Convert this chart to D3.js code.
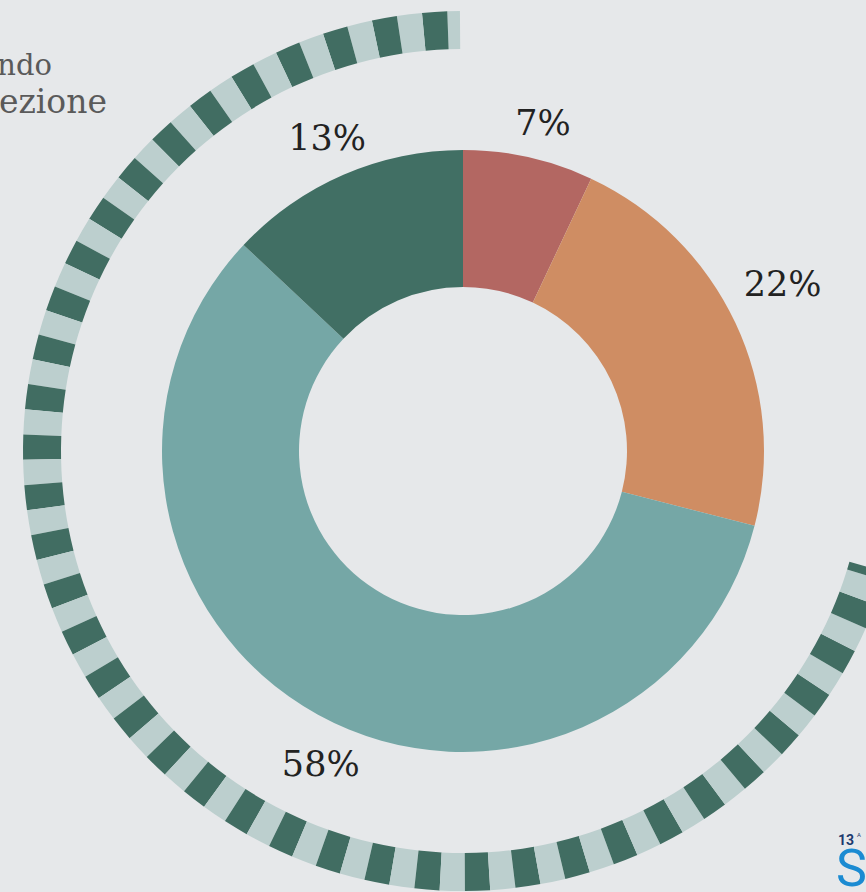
<!DOCTYPE html>
<html lang="it">
<head>
<meta charset="UTF-8">
<title>Donut</title>
<script src="https://d3js.org/d3.v7.min.js"></script>
<style>
  html, body { margin: 0; padding: 0; background: #e6e8ea; overflow: hidden; }
  svg { display: block; }
</style>
</head>
<body>
<div id="chart"></div>
<script>
// Data
var labels = ["A", "B", "C", "D"];
var values = [7, 22, 58, 13];
var colors = ["#b36762", "#cf8d63", "#75a7a6", "#416f64"];
var pctLabels = ["7%", "22%", "58%", "13%"];

var width = 866, height = 892;
var cx = 463, cy = 451;

var svg = d3.select("#chart").append("svg")
    .attr("width", width)
    .attr("height", height);

svg.append("rect").attr("width", width).attr("height", height).attr("fill", "#e6e8ea");

// Cut-off heading text at top left
svg.append("text")
    .attr("x", 52).attr("y", 75)
    .attr("text-anchor", "end")
    .style("font-family", "DejaVu Serif")
    .style("font-size", "29px")
    .attr("fill", "#5a5a5a")
    .text("ndo");
svg.append("text")
    .attr("x", 107).attr("y", 113)
    .attr("text-anchor", "end")
    .style("font-family", "DejaVu Serif")
    .style("font-size", "33px")
    .attr("fill", "#5a5a5a")
    .text("ezione");

var g = svg.append("g").attr("transform", "translate(" + cx + "," + cy + ")");

// Decorative striped ring
var rad = Math.PI / 180;
var segAngle = 3.3 * rad;
var ringEnd = 2 * Math.PI - 0.4 * rad;
var ringStart = 106 * rad;
var segs = [];
// top segment is a half light one, then alternate going counter-clockwise
var a = ringEnd, k = 0;
var first = segAngle * 0.5;
segs.push({ s: a - first, e: a, light: true });
a -= first;
while (a > ringStart) {
  k++;
  segs.push({ s: Math.max(ringStart, a - segAngle), e: a, light: k % 2 === 0 });
  a -= segAngle;
}
var ringArc = d3.arc().innerRadius(402).outerRadius(440);
g.append("g").selectAll("path")
  .data(segs)
  .enter().append("path")
    .attr("d", function(d) { return ringArc({ startAngle: d.s, endAngle: d.e }); })
    .attr("fill", function(d) { return d.light ? "#bccfce" : "#416d62"; });

// Donut
var pie = d3.pie().sort(null).value(function(d) { return d; });
var arcs = pie(values);
var arc = d3.arc().innerRadius(164).outerRadius(301);

g.append("g").selectAll("path")
  .data(arcs)
  .enter().append("path")
    .attr("d", arc)
    .attr("fill", function(d, i) { return colors[i]; });

// Percent labels (small angle nudges / radii per label, as in the original)
var labelShift = [1.1, -2.5, -4.3, 0];
var labelRadius = [338, 361, 343, 342];
g.append("g").selectAll("text")
  .data(arcs)
  .enter().append("text")
    .attr("transform", function(d, i) {
      var ang = (d.startAngle + d.endAngle) / 2 + labelShift[i] * rad;
      var r = labelRadius[i];
      return "translate(" + (r * Math.sin(ang)) + "," + (-r * Math.cos(ang)) + ")";
    })
    .attr("text-anchor", "middle")
    .attr("dy", "0.36em")
    .style("font-family", "DejaVu Serif")
    .style("font-size", "35px")
    .attr("fill", "#222")
    .text(function(d, i) { return pctLabels[i]; });

// Logo fragment bottom right
svg.append("text")
    .attr("x", 838).attr("y", 845)
    .style("font-family", "Roboto")
    .style("font-size", "14px")
    .style("font-weight", "bold")
    .attr("fill", "#1d3a6e")
    .text("13");
svg.append("text")
    .attr("x", 857).attr("y", 837)
    .style("font-family", "Roboto")
    .style("font-size", "6px")
    .attr("fill", "#1d3a6e")
    .text("A");
svg.append("text")
    .attr("x", 836).attr("y", 886)
    .style("font-family", "Roboto")
    .style("font-size", "52px")
    .attr("fill", "#1b8bd2")
    .text("S");
</script>
</body>
</html>
